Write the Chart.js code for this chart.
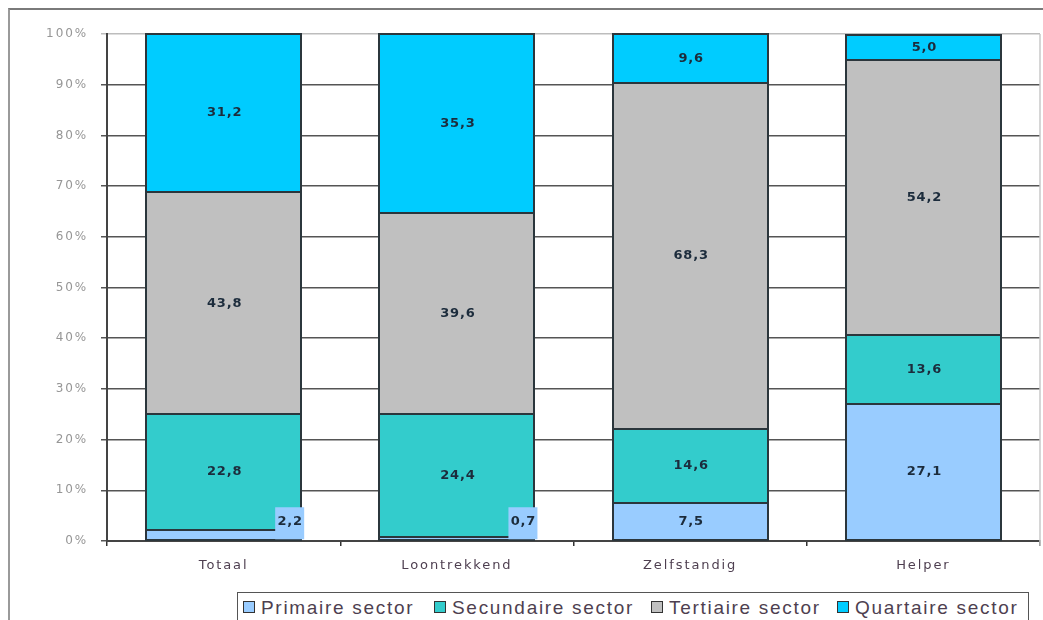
<!DOCTYPE html>
<html>
<head>
<meta charset="utf-8">
<script src="https://cdn.jsdelivr.net/npm/chart.js@4"></script>
<style>
  html, body { margin: 0; padding: 0; background: #fff; }
  #wrap { position: relative; width: 1043px; height: 620px; overflow: hidden; }
  #frame { position: absolute; left: 8px; top: 8px; width: 1100px; height: 700px;
           border-top: 2px solid #7a7a7a; border-left: 2px solid #9a9a9a; }
  #c { position: absolute; left: 0; top: 0; }
  #legend { position: absolute; left: 237px; top: 592px; width: 792px; height: 60px;
            border: 1.5px solid #555; box-sizing: border-box; background: #fff; }
  .item { position: absolute; top: 4px; font-family: "Liberation Sans", Arial, sans-serif;
          font-size: 19px; letter-spacing: 1.7px; color: #4e3f50; white-space: nowrap; }
  .mk { display: inline-block; width: 10px; height: 10px; border: 1.5px solid #333;
        margin-right: 6px; vertical-align: 1px; }
</style>
</head>
<body>
<div id="wrap">
  <div id="frame"></div>
  <canvas id="c" width="1043" height="620"></canvas>
  <div id="legend"></div>
</div>
<script>
const categories = ["Totaal", "Loontrekkend", "Zelfstandig", "Helper"];
const seriesNames = ["Primaire sector", "Secundaire sector", "Tertiaire sector", "Quartaire sector"];
const primaire   = [2.2, 0.7, 7.5, 27.1];
const secundaire = [22.8, 24.4, 14.6, 13.6];
const tertiaire  = [43.8, 39.6, 68.3, 54.2];
const quartaire  = [31.2, 35.3, 9.6, 5.0];
const yTicks = [0, 10, 20, 30, 40, 50, 60, 70, 80, 90, 100];
const colors = ["#99ccff", "#33cccc", "#c0c0c0", "#00ccff"];

const series = [primaire, secundaire, tertiaire, quartaire];
const axisFont = '"DejaVu Sans", "Liberation Sans", Arial, sans-serif';

const spacingPlugin = {
  id: 'spacing',
  beforeDraw(chart) { chart.ctx.letterSpacing = '1.9px'; }
};

const labelPlugin = {
  id: 'valueLabels',
  afterDatasetsDraw(chart) {
    const ctx = chart.ctx;
    ctx.save();
    ctx.strokeStyle = '#2b363c';
    ctx.lineWidth = 2;
    chart.data.datasets.forEach((ds, di) => {
      chart.getDatasetMeta(di).data.forEach(bar => {
        const l = Math.round(bar.x - bar.width / 2);
        const r = Math.round(bar.x + bar.width / 2);
        const t = Math.round(Math.min(bar.y, bar.base));
        const b = Math.round(Math.max(bar.y, bar.base));
        ctx.strokeRect(l, t, r - l, b - t);
      });
    });
    ctx.letterSpacing = '0.8px';
    ctx.font = 'bold 13px ' + axisFont;
    ctx.textAlign = 'center';
    ctx.textBaseline = 'middle';
    chart.data.datasets.forEach((ds, di) => {
      const meta = chart.getDatasetMeta(di);
      meta.data.forEach((bar, i) => {
        const v = ds.data[i];
        const txt = v.toFixed(1).replace('.', ',');
        if (v < 5) {
          const right = bar.x + bar.width / 2;
          const bottom = bar.base;
          ctx.fillStyle = ds.backgroundColor;
          ctx.fillRect(right - 26, bottom - 33, 29, 32);
          ctx.fillStyle = '#1c2c3c';
          ctx.fillText(txt, right - 11, bottom - 19);
        } else {
          ctx.fillStyle = '#1c2c3c';
          ctx.fillText(txt, bar.x + 1, (bar.y + bar.base) / 2);
        }
      });
    });
    ctx.restore();
  }
};

const rightLine = {
  id: 'rightLine',
  beforeDatasetsDraw(chart) {
    const a = chart.chartArea, ctx = chart.ctx;
    ctx.save();
    ctx.strokeStyle = '#c8c8c8';
    ctx.lineWidth = 1.5;
    ctx.beginPath();
    ctx.moveTo(a.right, a.top);
    ctx.lineTo(a.right, a.bottom + 5);
    ctx.stroke();
    ctx.restore();
  }
};

new Chart(document.getElementById('c'), {
  type: 'bar',
  data: {
    labels: categories,
    datasets: series.map((d, k) => ({
      label: seriesNames[k],
      data: d,
      backgroundColor: colors[k],
      borderWidth: 0,
      inflateAmount: 0,
      categoryPercentage: 1,
      barPercentage: 0.665
    }))
  },
  options: {
    responsive: false,
    animation: false,
    devicePixelRatio: 1,
    layout: { padding: { top: 34, right: 3, left: 0, bottom: 0 } },
    plugins: { legend: { display: false }, tooltip: { enabled: false } },
    scales: {
      x: {
        stacked: true,
        afterFit: s => { s.height = 79; },
        grid: { drawOnChartArea: false, drawTicks: true, tickLength: 5, color: '#333', offset: true, lineWidth: 1.5 },
        border: { color: '#444', width: 2 },
        ticks: { padding: 12, color: '#4e3f50', font: { family: axisFont, size: 13 } }
      },
      y: {
        stacked: true,
        min: 0, max: 100,
        afterFit: s => { s.width = 107; },
        afterBuildTicks: s => { s.ticks = yTicks.map(v => ({ value: v })); },
        grid: {
          color: ctx => (ctx.tick && ctx.tick.value === 100) ? '#bdbdbd' : '#555',
          lineWidth: 1.5, tickLength: 6
        },
        border: { color: '#444', width: 2 },
        ticks: {
          padding: 13, color: '#969696',
          font: { family: axisFont, size: 12 },
          callback: v => v + '%'
        }
      }
    }
  },
  plugins: [spacingPlugin, labelPlugin, rightLine]
});

const legendX = [5, 196, 413, 599];
const lg = document.getElementById('legend');
seriesNames.forEach((n, k) => {
  const it = document.createElement('div');
  it.className = 'item';
  it.style.left = legendX[k] + 'px';
  const mk = document.createElement('span');
  mk.className = 'mk';
  mk.style.background = colors[k];
  it.appendChild(mk);
  it.appendChild(document.createTextNode(n));
  lg.appendChild(it);
});
</script>
</body>
</html>
